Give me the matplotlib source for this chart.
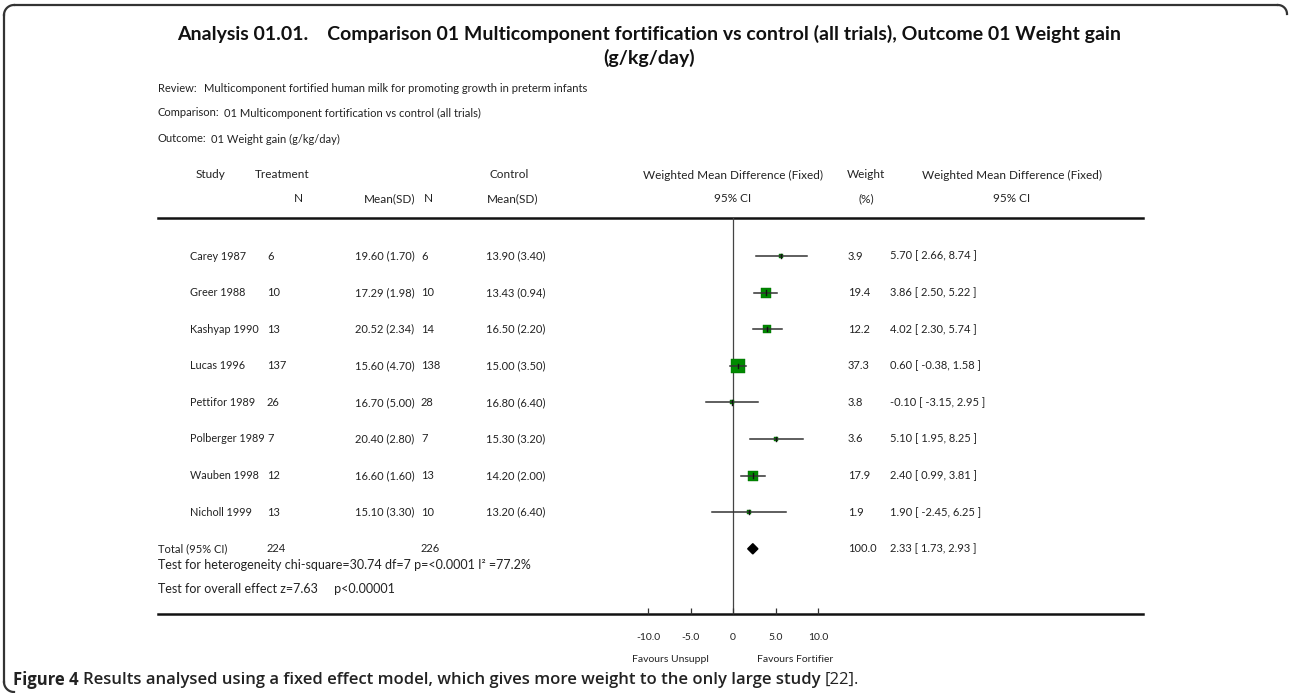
import matplotlib
matplotlib.use("Agg")
import matplotlib.pyplot as plt
import numpy as np

# ---------------- data ----------------
studies = ["Carey 1987", "Greer 1988", "Kashyap 1990", "Lucas 1996",
           "Pettifor 1989", "Polberger 1989", "Wauben 1998", "Nicholl 1999"]
trt_n = [6, 10, 13, 137, 26, 7, 12, 13]
trt_mean = [19.60, 17.29, 20.52, 15.60, 16.70, 20.40, 16.60, 15.10]
trt_sd = [1.70, 1.98, 2.34, 4.70, 5.00, 2.80, 1.60, 3.30]
ctl_n = [6, 10, 14, 138, 28, 7, 13, 10]
ctl_mean = [13.90, 13.43, 16.50, 15.00, 16.80, 15.30, 14.20, 13.20]
ctl_sd = [3.40, 0.94, 2.20, 3.50, 6.40, 3.20, 2.00, 6.40]
weight = [3.9, 19.4, 12.2, 37.3, 3.8, 3.6, 17.9, 1.9]
wmd = [5.70, 3.86, 4.02, 0.60, -0.10, 5.10, 2.40, 1.90]
ci_lo = [2.66, 2.50, 2.30, -0.38, -3.15, 1.95, 0.99, -2.45]
ci_hi = [8.74, 5.22, 5.74, 1.58, 2.95, 8.25, 3.81, 6.25]
total_trt_n = 224
total_ctl_n = 226
total_weight = 100.0
total_wmd = 2.33
total_lo = 1.73
total_hi = 2.93
x_ticks = [-10, -5, 0, 5, 10]
x_ticklabels = ["-10.0", "-5.0", "0", "5.0", "10.0"]

W, H = 1290, 693
FONT = "Lato"
TXT = "#222222"
fig = plt.figure(figsize=(W / 100, H / 100), dpi=100)

# background axes in pixel coordinates
bg = fig.add_axes([0, 0, 1, 1])
bg.set_xlim(0, W)
bg.set_ylim(H, 0)
bg.axis("off")

# frame (top + left edges with rounded corners)
frame_col = "#333333"
bg.plot([14, 1278], [5, 5], color=frame_col, lw=1.6, solid_capstyle="round")
bg.plot([4, 4], [15, 682], color=frame_col, lw=1.6)
t = np.linspace(0, np.pi / 2, 20)
bg.plot(14 - 10 * np.cos(t), 15 - 10 * np.sin(t), color=frame_col, lw=1.6)
bg.plot(14 - 10 * np.cos(t), 682 + 10 * np.sin(t), color=frame_col, lw=1.6)
bg.plot(1278 + 9 * np.sin(t), 14 - 9 * np.cos(t), color=frame_col, lw=1.6)

# title
bg.text(649, 34, "Analysis 01.01.    Comparison 01 Multicomponent fortification vs control (all trials), Outcome 01 Weight gain",
        ha="center", va="center", fontsize=14, fontweight="bold", family=FONT, color="#111111")
bg.text(649, 58, "(g/kg/day)", ha="center", va="center", fontsize=14,
        fontweight="bold", family=FONT, color="#111111")

small = dict(fontsize=8, family=FONT, color=TXT, va="center")
bg.text(158, 88, "Review:", ha="left", **small)
bg.text(204, 88, "Multicomponent fortified human milk for promoting growth in preterm infants", ha="left", **small)
bg.text(158, 113, "Comparison:", ha="left", **small)
bg.text(224, 113, "01 Multicomponent fortification vs control (all trials)", ha="left", **small)
bg.text(158, 139, "Outcome:", ha="left", **small)
bg.text(211, 139, "01 Weight gain (g/kg/day)", ha="left", **small)

hdr = dict(fontsize=8.5, family=FONT, color=TXT, va="center")
bg.text(210, 175, "Study", ha="center", **hdr)
bg.text(255, 175, "Treatment", ha="left", **hdr)
bg.text(490, 175, "Control", ha="left", **hdr)
bg.text(733, 175, "Weighted Mean Difference (Fixed)", ha="center", **hdr)
bg.text(866, 175, "Weight", ha="center", **hdr)
bg.text(1012, 175, "Weighted Mean Difference (Fixed)", ha="center", **hdr)
bg.text(298, 199, "N", ha="center", **hdr)
bg.text(364, 199, "Mean(SD)", ha="left", **hdr)
bg.text(428, 199, "N", ha="center", **hdr)
bg.text(487, 199, "Mean(SD)", ha="left", **hdr)
bg.text(733, 199, "95% CI", ha="center", **hdr)
bg.text(866, 199, "(%)", ha="center", **hdr)
bg.text(1012, 199, "95% CI", ha="center", **hdr)

# horizontal rules
bg.plot([158, 1143], [218, 218], color="#111111", lw=1.8)
bg.plot([158, 1143], [614, 614], color="#111111", lw=1.8)

# row layout shared by table & forest axes
row0_px, row_step = 256, 36.6
top_px, bot_px = 218, 614
y_top = (top_px - row0_px) / row_step
y_bot = (bot_px - row0_px) / row_step
ax_pos = [0, 1 - bot_px / H, 1, (bot_px - top_px) / H]

tab = fig.add_axes(ax_pos)
tab.set_xlim(0, W)
tab.set_ylim(y_bot, y_top)
tab.axis("off")
tab.patch.set_alpha(0)

rows = np.arange(len(studies))
cell = dict(fontsize=8, family=FONT, color=TXT, va="center", ha="left")
name_cell = dict(cell, fontsize=7.8)
for i in rows:
    tab.text(190, i, studies[i], **name_cell)
    tab.text(267, i, f"{trt_n[i]}", **cell)
    tab.text(355, i, f"{trt_mean[i]:.2f} ({trt_sd[i]:.2f})", **cell)
    tab.text(421, i, f"{ctl_n[i]}", **cell)
    tab.text(486, i, f"{ctl_mean[i]:.2f} ({ctl_sd[i]:.2f})", **cell)
    tab.text(848, i, f"{weight[i]:.1f}", **cell)
    tab.text(890, i, f"{wmd[i]:.2f} [ {ci_lo[i]:.2f}, {ci_hi[i]:.2f} ]", **cell)

ti = len(studies)
tab.text(158, ti, "Total (95% CI)", **cell)
tab.text(267, ti, f"{total_trt_n}", **cell)
tab.text(421, ti, f"{total_ctl_n}", **cell)
tab.text(848, ti, f"{total_weight:.1f}", **cell)
tab.text(890, ti, f"{total_wmd:.2f} [ {total_lo:.2f}, {total_hi:.2f} ]", **cell)
test_cell = dict(cell, fontsize=9)
tab.text(158, ti + 0.43, "Test for heterogeneity chi-square=30.74 df=7 p=<0.0001 I² =77.2%", **test_cell)
tab.text(158, ti + 1.1, "Test for overall effect z=7.63     p<0.00001", **test_cell)

# forest axes: 0 at x=733 px, 8.5 px per unit
px_per_unit = 8.5
zero_px = 733
half_units = 20
fx0 = zero_px - half_units * px_per_unit
fax = fig.add_axes([fx0 / W, ax_pos[1], 2 * half_units * px_per_unit / W, ax_pos[3]])
fax.set_xlim(-half_units, half_units)
fax.set_ylim(y_bot, y_top)
fax.patch.set_alpha(0)
for s in fax.spines.values():
    s.set_visible(False)
fax.set_yticks([])
fax.set_xticks(x_ticks)
fax.set_xticklabels(x_ticklabels, family=FONT, fontsize=7.5, color=TXT)
fax.tick_params(axis="x", direction="in", length=4, width=0.9, color="#333333", pad=14)

fax.axvline(0, color="#444444", lw=0.9, zorder=1)

for i in rows:
    side_px = 14 * np.sqrt(weight[i] / 37.3)
    side_pt = side_px * 0.72
    fax.scatter([wmd[i]], [i], marker="s", s=side_pt ** 2, color="#008a00",
                edgecolor="#006600", linewidth=0.3, zorder=2)
    fax.plot([ci_lo[i], ci_hi[i]], [i, i], color="#333333", lw=1.1, zorder=3)
    fax.plot([wmd[i], wmd[i]], [i - 0.06, i + 0.06], color="#111111", lw=1.0, zorder=4)

dh = 0.14
fax.fill([total_lo, total_wmd, total_hi, total_wmd],
         [ti, ti - dh, ti, ti + dh], color="black", zorder=4)

bg.text(670, 660, "Favours Unsuppl", ha="center", va="center", fontsize=7.5, family=FONT, color=TXT)
bg.text(795, 660, "Favours Fortifier", ha="center", va="center", fontsize=7.5, family=FONT, color=TXT)

# caption with mixed weights
fig.canvas.draw()
renderer = fig.canvas.get_renderer()
cap_y = 680
pieces = [("Figure 4 ", "bold"),
          ("Results analysed using a fixed effect model, which gives more weight to the only large study ", "semibold"),
          ("[22].", "normal")]
x = 13
for txt, wt in pieces:
    tt = bg.text(x, cap_y, txt, ha="left", va="center", fontsize=12,
                 family="Open Sans", fontweight=wt, color="#222222")
    bb = tt.get_window_extent(renderer=renderer)
    x += bb.width

fig.savefig("out.png", dpi=100)
